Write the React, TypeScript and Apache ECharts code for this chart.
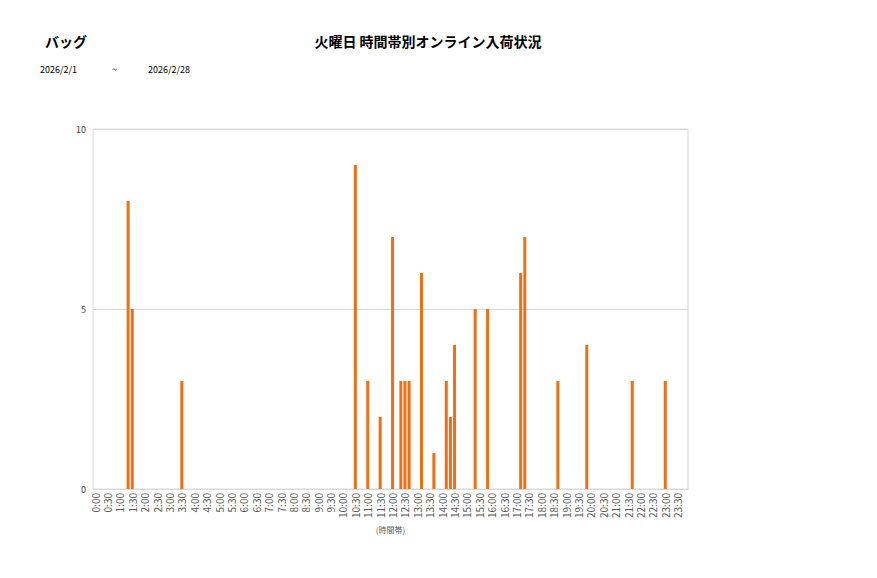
import { useEffect, useRef } from 'react';
import * as echarts from 'echarts';

// 10分刻みのカテゴリ（0:00〜23:50）
const hours = Array.from({ length: 24 }, (_, h) => h);
const minutes = ['00', '10', '20', '30', '40', '50'];
const categories: string[] = hours.flatMap((h) => minutes.map((m) => `${h}:${m}`));

// 入荷件数（読み取り値）
const slotTimes = [
  '1:20', '1:30', '3:30', '10:30', '11:00', '11:30', '12:00', '12:20', '12:30', '12:40',
  '13:10', '13:40', '14:10', '14:20', '14:30', '15:20', '15:50', '17:10', '17:20',
  '18:40', '19:50', '21:40', '23:00',
];
const slotCounts = [8, 5, 3, 9, 3, 2, 7, 3, 3, 3, 6, 1, 3, 2, 4, 5, 5, 6, 7, 3, 4, 3, 3];

const yTicks = { min: 0, max: 10, interval: 5 };

const categoryName = 'バッグ';
const chartTitle = '火曜日 時間帯別オンライン入荷状況';
const dateFrom = '2026/2/1';
const dateTo = '2026/2/28';
const axisName = '(時間帯)';

const FONT = '"Noto Sans CJK JP", "Noto Sans", sans-serif';

export default function App() {
  const ref = useRef<HTMLDivElement>(null);

  useEffect(() => {
    const dom = ref.current;
    if (!dom) return;
    const chart = echarts.init(dom, null, { renderer: 'svg' });

    const values = categories.map((c) => {
      const i = slotTimes.indexOf(c);
      return i >= 0 ? slotCounts[i] : null;
    });

    chart.setOption({
      animation: false,
      textStyle: { fontFamily: FONT },
      graphic: [
        {
          type: 'text',
          left: 45,
          top: 34,
          style: { text: categoryName, fontSize: 14, fontWeight: 'bold', fill: '#000', fontFamily: FONT },
        },
        {
          type: 'text',
          x: 428,
          y: 34,
          style: {
            text: chartTitle,
            fontSize: 14,
            fontWeight: 'bold',
            fill: '#000',
            align: 'center',
            fontFamily: FONT,
          },
        },
        {
          type: 'text',
          left: 40,
          top: 65,
          style: { text: dateFrom, fontSize: 9, fill: '#000', fontFamily: FONT },
        },
        {
          type: 'text',
          left: 112,
          top: 65,
          style: { text: '~', fontSize: 9, fill: '#000', fontFamily: FONT },
        },
        {
          type: 'text',
          left: 148,
          top: 65,
          style: { text: dateTo, fontSize: 9, fill: '#000', fontFamily: FONT },
        },
      ],
      grid: {
        left: 93,
        right: 189,
        top: 129,
        bottom: 89,
        show: true,
        borderColor: '#d9d9d9',
        borderWidth: 1,
      },
      xAxis: {
        type: 'category',
        data: categories,
        name: axisName,
        nameLocation: 'middle',
        nameGap: 34,
        nameTextStyle: { fontSize: 8, color: '#595959' },
        axisLine: { lineStyle: { color: '#d9d9d9' } },
        axisTick: { show: false },
        axisLabel: {
          interval: 2,
          rotate: 90,
          fontSize: 10,
          color: '#595959',
          margin: 4,
        },
      },
      yAxis: {
        type: 'value',
        min: yTicks.min,
        max: yTicks.max,
        interval: yTicks.interval,
        axisLine: { show: false },
        axisTick: { show: false },
        axisLabel: { fontSize: 9, color: '#404040', margin: 7 },
        splitLine: { lineStyle: { color: '#d9d9d9' } },
      },
      series: [
        {
          type: 'bar',
          data: values,
          barWidth: 3,
          itemStyle: { color: '#F26E12' },
        },
      ],
    } as echarts.EChartsOption);

    return () => {
      chart.dispose();
    };
  }, []);

  return (
    <div
      ref={ref}
      style={{ position: 'absolute', left: 0, top: 0, width: 877, height: 578, background: '#fff' }}
    />
  );
}
